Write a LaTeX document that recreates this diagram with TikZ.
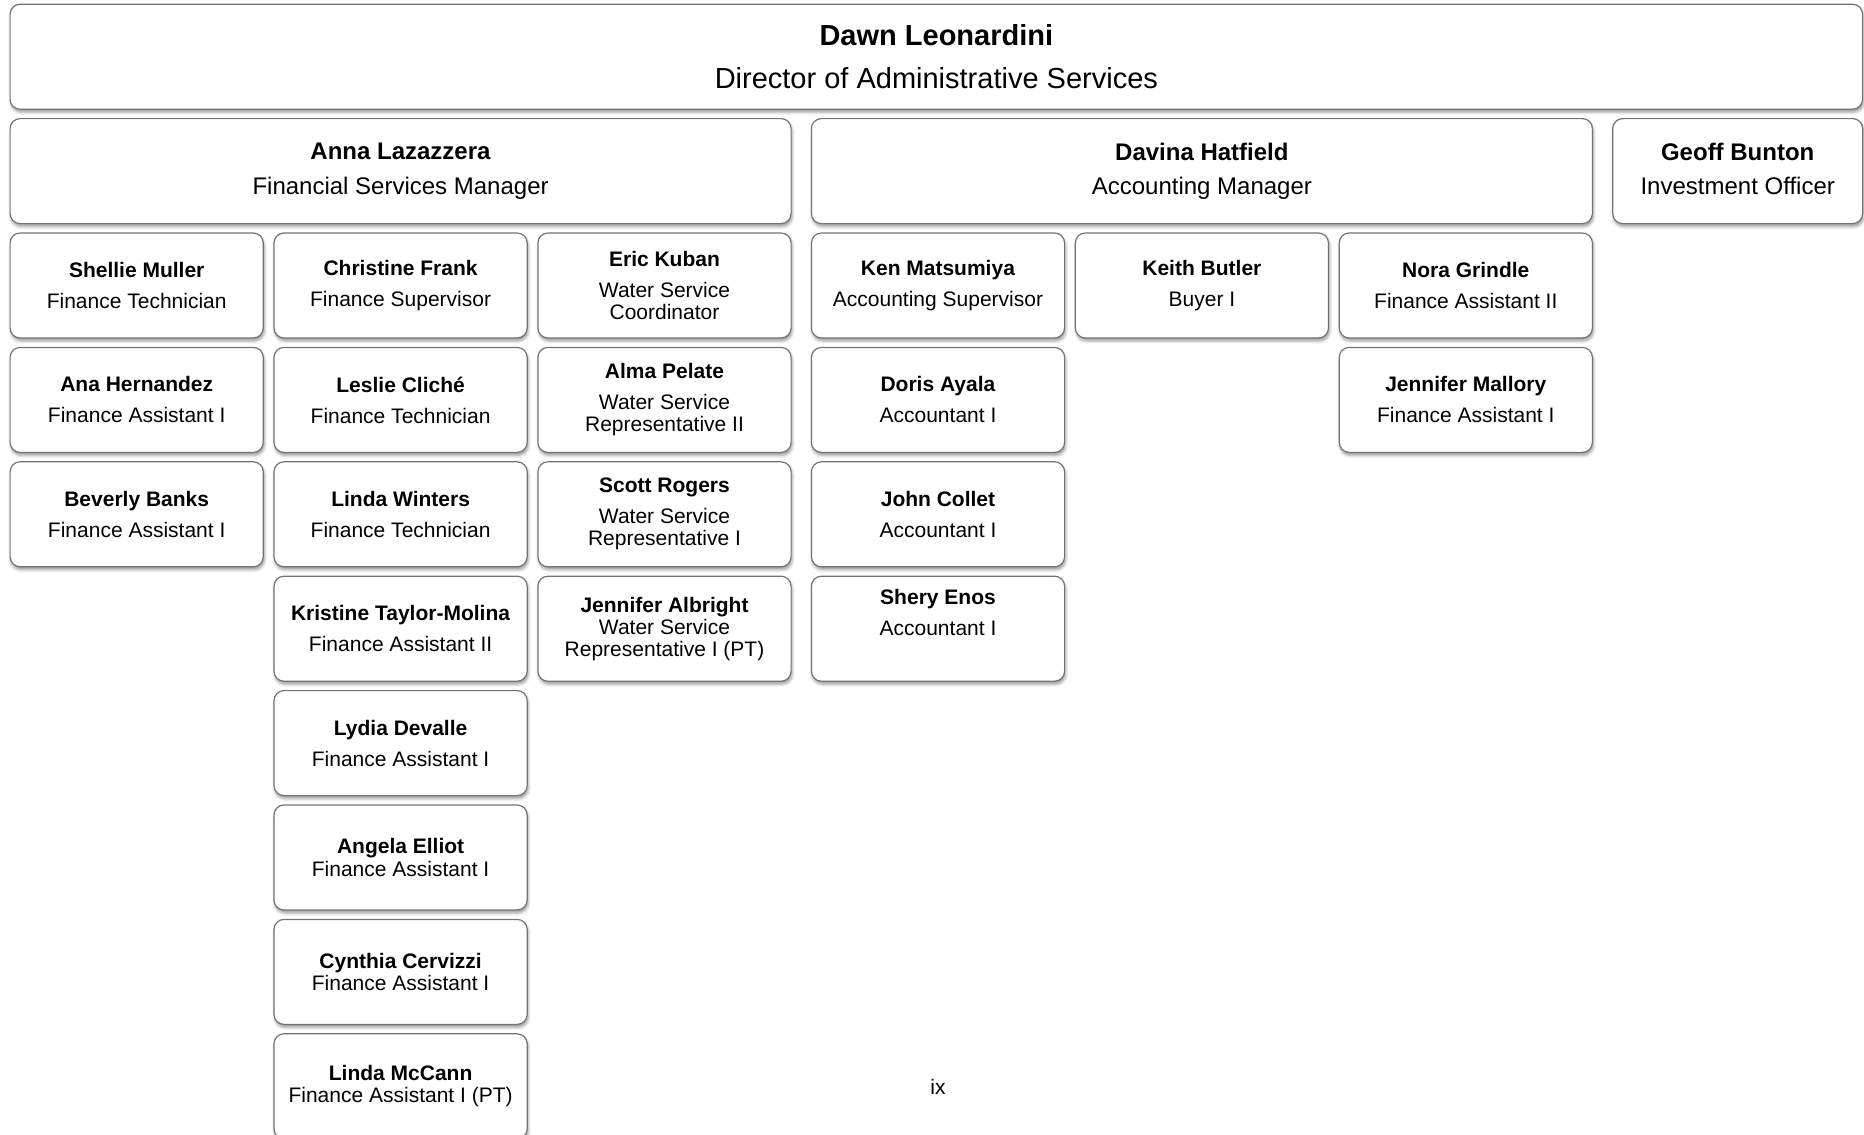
\documentclass[tikz,border=0pt]{standalone}
\usepackage{fontspec}
\setmainfont{Liberation Sans}
\usetikzlibrary{positioning, shadows.blur}
\tikzstyle{orgbox} = [rectangle, rounded corners=5pt, draw=black!55, line width=0.6pt, fill=white, align=center, inner sep=1pt, blur shadow={shadow xshift=0.5pt, shadow yshift=-1.5pt, shadow blur radius=1.5pt}]
\tikzstyle{director} = [orgbox, minimum width=926.25pt, minimum height=52.5pt, font=\fontsize{14.5}{16}\selectfont]
\tikzstyle{manager} = [orgbox, minimum width=390.5pt, minimum height=52.5pt, font=\fontsize{12}{14}\selectfont]
\tikzstyle{officer} = [manager, minimum width=125pt]
\tikzstyle{staff} = [orgbox, minimum width=126.6pt, minimum height=52.5pt, font=\fontsize{10.5}{11}\selectfont]
\begin{document}
\begin{tikzpicture}[node distance=4.1pt and 4.75pt]
\useasboundingbox (0,0) rectangle (932pt,-567.5pt);
% page of the administrative services org chart
\node (dawn) [director, anchor=north west] at (4.75pt,-1.8pt) {\textbf{Dawn Leonardini}\\[5.4pt]Director of Administrative Services};

\node (anna) [manager, below=of dawn.south west, anchor=north west] {\textbf{Anna Lazazzera}\\[3.2pt]Financial Services Manager};
\node (davina) [manager, right=9.55pt of anna] {\textbf{Davina Hatfield}\\[3.2pt]Accounting Manager};
\node (geoff) [officer, right=9.55pt of davina] {\textbf{Geoff Bunton}\\[3.2pt]Investment Officer\vphantom{g}};

\node (shellie) [staff, below=of anna.south west, anchor=north west] {\textbf{Shellie Muller}\\[4.5pt]Finance Technician};
\node (ana) [staff, below=of shellie] {\textbf{Ana Hernandez}\\[4.5pt]Finance Assistant I};
\node (beverly) [staff, below=of ana] {\textbf{Beverly Banks}\\[4.5pt]Finance Assistant I};

\node (christine) [staff, right=of shellie] {\textbf{Christine Frank}\\[4.5pt]Finance Supervisor};
\node (leslie) [staff, below=of christine] {\textbf{Leslie Cliché}\\[4.5pt]Finance Technician};
\node (lindaw) [staff, below=of leslie] {\textbf{Linda Winters}\\[4.5pt]Finance Technician};
\node (kristine) [staff, below=of lindaw] {\textbf{Kristine Taylor-Molina}\\[4.5pt]Finance Assistant II};
\node (lydia) [staff, below=of kristine] {\textbf{Lydia Devalle}\\[4.5pt]Finance Assistant I};
\node (angela) [staff, below=of lydia] {\textbf{Angela Elliot}\\[0.8pt]Finance Assistant I};
\node (cynthia) [staff, below=of angela] {\textbf{Cynthia Cervizzi}\\Finance Assistant I};
\node (lindam) [staff, below=of cynthia] {\textbf{Linda McCann}\\Finance Assistant I (PT)};

\node (eric) [staff, right=of christine] {\textbf{Eric Kuban}\\[4.5pt]Water Service\\Coordinator};
\node (alma) [staff, below=of eric] {\textbf{Alma Pelate}\\[4.5pt]Water Service\\Representative II};
\node (scott) [staff, below=of alma] {\textbf{Scott Rogers}\\[4.5pt]Water Service\\Representative I};
\node (jennifera) [staff, below=of scott] {\textbf{Jennifer Albright}\\Water Service\\Representative I (PT)};

\node (ken) [staff, below=of davina.south west, anchor=north west] {\textbf{Ken Matsumiya}\\[4.5pt]Accounting Supervisor};
\node (doris) [staff, below=of ken] {\textbf{Doris Ayala}\\[4.5pt]Accountant I};
\node (john) [staff, below=of doris] {\textbf{John Collet}\\[4.5pt]Accountant I};
\node (shery) [staff, below=of john] {\textbf{Shery Enos}\\[4.5pt]Accountant I\\[5pt]~};

\node (keith) [staff, right=of ken] {\textbf{Keith Butler}\\[4.5pt]Buyer I};
\node (nora) [staff, right=of keith] {\textbf{Nora Grindle}\\[4.5pt]Finance Assistant II};
\node (jenniferm) [staff, below=of nora] {\textbf{Jennifer Mallory}\\[4.5pt]Finance Assistant I};

\node (pagenum) [font=\fontsize{10.5}{12}\selectfont] at (469pt,-543.5pt) {ix};
\end{tikzpicture}
\end{document}
